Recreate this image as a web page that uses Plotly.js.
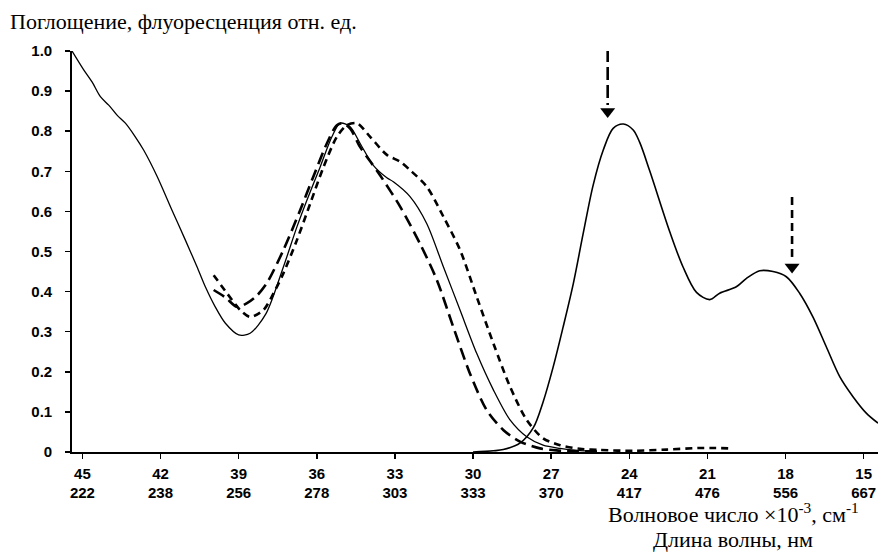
<!DOCTYPE html>
<html>
<head>
<meta charset="utf-8">
<script src="https://cdn.plot.ly/plotly-3.0.1.min.js"></script>
<style>html,body{margin:0;padding:0;background:#fff;}#chart{width:878px;height:552px;}</style>
</head>
<body>
<div id="chart"></div>
<script>
// Wavenumber ×10^-3 (cm^-1) and relative intensity
const absSolidX = [45.4,44.95,44.63,44.31,43.99,43.67,43.35,42.97,42.65,42.13,41.56,41.05,40.6,40.28,39.9,39.51,39.0,38.56,37.95,37.28,36.76,36.38,35.87,35.42,35.1,34.72,34.34,33.83,33.31,33.06,32.42,31.78,31.14,30.5,29.86,29.22,28.58,27.94,27.31,26.66,26.0,25.3];
const absSolidY = [1.0,0.953,0.923,0.886,0.865,0.84,0.82,0.786,0.753,0.687,0.603,0.529,0.462,0.412,0.362,0.321,0.292,0.296,0.345,0.462,0.562,0.628,0.711,0.786,0.82,0.811,0.77,0.715,0.684,0.674,0.637,0.57,0.462,0.354,0.246,0.155,0.08,0.038,0.017,0.009,0.004,0.002];

const absLongX = [39.96,39.5,39.07,38.68,38.3,37.92,37.28,36.64,36.13,35.61,35.23,34.98,34.7,34.34,33.95,33.57,32.8,32.04,31.39,30.76,30.12,29.48,28.84,28.2,27.43,26.8,26.0,25.2];
const absLongY = [0.404,0.385,0.362,0.371,0.39,0.421,0.504,0.603,0.687,0.77,0.815,0.82,0.805,0.761,0.725,0.69,0.612,0.52,0.429,0.312,0.196,0.105,0.055,0.026,0.009,0.004,0.002,0.001];

const absShortX = [39.96,39.45,38.94,38.56,38.05,37.66,37.28,36.76,36.25,35.74,35.23,34.85,34.46,33.95,33.31,32.8,32.42,31.78,31.14,30.5,29.86,29.22,28.58,27.94,27.31,26.66,25.9,25.13,23.86,22.56,21.29,20.8,20.15];
const absShortY = [0.441,0.396,0.354,0.337,0.354,0.396,0.446,0.529,0.62,0.711,0.786,0.815,0.82,0.786,0.741,0.724,0.703,0.662,0.587,0.504,0.387,0.271,0.163,0.08,0.034,0.017,0.008,0.005,0.003,0.006,0.01,0.01,0.009];

const fluorX = [30.0,29.22,28.84,28.2,27.69,27.31,26.92,26.54,26.15,25.77,25.39,25.0,24.62,24.23,23.85,23.6,23.21,22.45,21.94,21.42,20.91,20.53,19.89,19.5,18.99,18.48,17.97,17.46,16.95,16.44,15.92,15.41,14.9,14.45];
const fluorY = [0.0,0.003,0.006,0.022,0.06,0.125,0.213,0.312,0.42,0.545,0.665,0.753,0.807,0.818,0.803,0.772,0.7,0.55,0.462,0.398,0.38,0.396,0.412,0.433,0.452,0.45,0.437,0.396,0.337,0.263,0.188,0.138,0.097,0.072];

// Arrows marking excitation wavenumbers
const arrowX = [24.83, 17.75];
const arrowTop = [1.005, 0.636];
const arrowTip = [0.833, 0.445];

// Tick labels
const xTickVals = [45,42,39,36,33,30,27,24,21,18,15];
const xTickWave = ["222","238","256","278","303","333","370","417","476","556","667"];
const yTickVals = [0,0.1,0.2,0.3,0.4,0.5,0.6,0.7,0.8,0.9,1.0];
const yTickText = ["0","0.1","0.2","0.3","0.4","0.5","0.6","0.7","0.8","0.9","1.0"];

const pxPerY = 401; // plot height in px, used for arrowhead offset
const headSize = 13;
const headOffset = (headSize / 2) / pxPerY;

const traces = [
  {x: absSolidX, y: absSolidY, mode:'lines', line:{color:'#000', width:1.3, shape:'spline', smoothing:0.8}},
  {x: absLongX, y: absLongY, mode:'lines', line:{color:'#000', width:2.6, dash:'12px,6px', shape:'spline', smoothing:0.8}},
  {x: absShortX, y: absShortY, mode:'lines', line:{color:'#000', width:2.6, dash:'7px,5px', shape:'spline', smoothing:0.8}},
  {x: fluorX, y: fluorY, mode:'lines', line:{color:'#000', width:1.6, shape:'spline', smoothing:0.9}},
  {x: [arrowX[0], arrowX[0]], y: [arrowTop[0], arrowTip[0] + 2*headOffset], mode:'lines', line:{color:'#000', width:2.6, dash:'13px,5px'}},
  {x: [arrowX[1], arrowX[1]], y: [arrowTop[1], arrowTip[1] + 2*headOffset], mode:'lines', line:{color:'#000', width:2.6, dash:'8px,5px'}},
  {x: arrowX, y: [arrowTip[0] + headOffset, arrowTip[1] + headOffset], mode:'markers', marker:{symbol:'triangle-down', size:headSize, color:'#000', line:{width:0}}}
];

const tickFont = {family:'"Liberation Sans", Arial, sans-serif', size:15, color:'#000', weight:'bold'};
const serif = {family:'"Liberation Serif", "Times New Roman", serif', size:22, color:'#000'};

const layout = {
  width: 878, height: 552,
  margin: {l:72, r:0, t:51, b:100, pad:0},
  paper_bgcolor:'#fff', plot_bgcolor:'#fff',
  showlegend:false,
  title: {text:'Поглощение, флуоресценция отн. ед.', font: serif, x: 10/878, xanchor:'left', xref:'container', y: 1 - 21/552, yanchor:'middle', yref:'container'},
  xaxis: {
    range:[45.4, 14.45], showgrid:false, zeroline:false,
    showline:true, linecolor:'#000', linewidth:1.8,
    ticks:'outside', ticklen:5, tickwidth:1.5, tickcolor:'#000',
    tickvals: xTickVals,
    ticktext: xTickVals.map((v,i)=> v + '<br>' + xTickWave[i]),
    tickfont: tickFont, ticklabelstandoff: 2
  },
  yaxis: {
    range:[0,1], showgrid:false, zeroline:false,
    showline:true, linecolor:'#000', linewidth:1.8,
    ticks:'outside', ticklen:5, tickwidth:1.5, tickcolor:'#000',
    tickvals: yTickVals, ticktext: yTickText,
    tickfont: tickFont, ticklabelstandoff: 10
  },
  annotations: [
    {xref:'paper', yref:'paper', x: (733-72)/806, y: -(513-452)/401, xanchor:'center', yanchor:'middle', showarrow:false,
     text:'Волновое число ×10<sup>-3</sup>, см<sup>-1</sup>', font: serif},
    {xref:'paper', yref:'paper', x: (733-72)/806, y: -(539-452)/401, xanchor:'center', yanchor:'middle', showarrow:false,
     text:'Длина волны, нм', font: serif}
  ]
};

Plotly.newPlot('chart', traces, layout, {staticPlot:true, displayModeBar:false});
</script>
</body>
</html>
